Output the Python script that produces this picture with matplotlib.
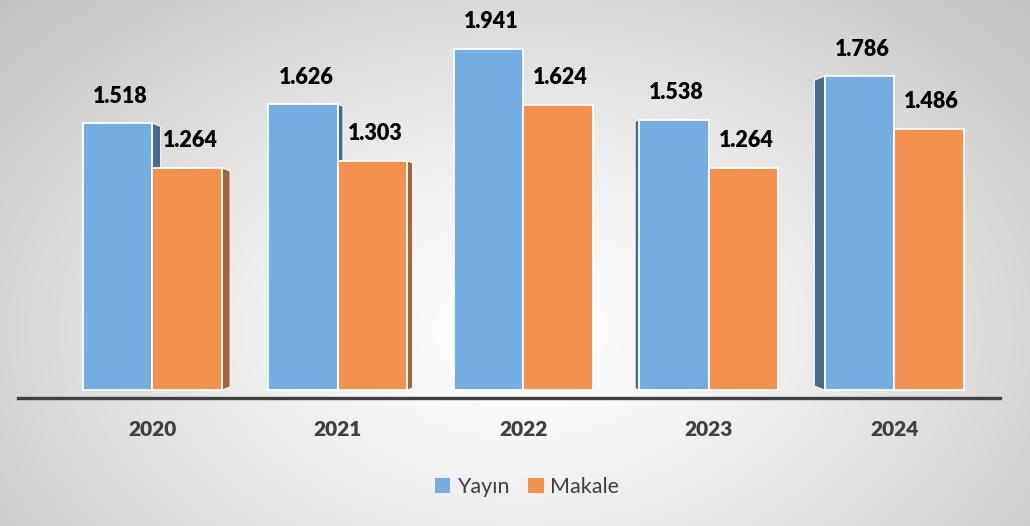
import numpy as np
import matplotlib.pyplot as plt
from matplotlib.patches import Patch, Polygon

plt.rcParams['font.family'] = ['Lato', 'DejaVu Sans']

years = ['2020', '2021', '2022', '2023', '2024']
yayin = [1518, 1626, 1941, 1538, 1786]
makale = [1264, 1303, 1624, 1264, 1486]
series_names = ['Yayın', 'Makale']

BLUE = '#74ADE2'
ORANGE = '#F4914F'
BLUE_SIDE = '#46698C'
ORANGE_SIDE = '#A5653A'
TXT = '#404040'

W, H = 1030, 526
fig = plt.figure(figsize=(W / 100, H / 100), dpi=100)

# radial grey background
yy, xx = np.mgrid[0:H, 0:W]
r = np.hypot((xx - 520) / 640, (yy - 330) / 430)
shade = 1 - 0.21 * np.clip(r, 0, 1.3) ** 1.3
bg = fig.add_axes([0, 0, 1, 1])
bg.imshow(np.dstack([shade] * 3), extent=[0, 1, 0, 1], aspect='auto')
bg.axis('off')

ax = fig.add_axes([18 / W, 128 / H, 982 / W, 378 / H])
ax.patch.set_alpha(0)

px_x = 185.4          # pixels per category
px_y = 0.1757         # pixels per unit
ax.set_xlim((18 - 152.5) / px_x, (1000 - 152.5) / px_x)
ax.set_ylim(-8 / px_y, (390 - 20) / px_y)

bw = 0.375
x = np.arange(len(years))

# perspective side faces (pixels, + right / - left)
depth = [8, 5, 0, -4, -10]


def side_face(x_edge, h, d_px, color):
    d = d_px / px_x
    e = 0.4 * abs(d_px) / px_y
    pts = [(x_edge, 0), (x_edge + d, e), (x_edge + d, h - e), (x_edge, h)]
    ax.add_patch(Polygon(pts, closed=True, facecolor=color,
                         edgecolor='white', linewidth=0.6, zorder=1))


for i in range(len(years)):
    d = depth[i]
    if d > 0:
        side_face(x[i], yayin[i], d, BLUE_SIDE)
        side_face(x[i] + bw, makale[i], d, ORANGE_SIDE)
    elif d < 0:
        side_face(x[i] - bw, yayin[i], d, BLUE_SIDE)

ax.bar(x - bw / 2, yayin, bw, color=BLUE, edgecolor='white', linewidth=1.3, zorder=2)
ax.bar(x + bw / 2, makale, bw, color=ORANGE, edgecolor='white', linewidth=1.3, zorder=2)


def fmt(v):
    return f'{v:,}'.replace(',', '.')


for xs, vals in [(x - bw / 2, yayin), (x + bw / 2, makale)]:
    for xi, v in zip(xs, vals):
        ax.annotate(fmt(v), (xi, v), xytext=(2, 12), textcoords='offset points',
                    ha='center', va='bottom', fontsize=15.5, fontweight='heavy',
                    color='black', zorder=5)

for s in ['top', 'right', 'left']:
    ax.spines[s].set_visible(False)
ax.spines['bottom'].set_color(TXT)
ax.spines['bottom'].set_linewidth(2.4)
ax.set_yticks([])
ax.set_xticks(x)
ax.set_xticklabels(years, fontsize=15, fontweight='heavy', color=TXT)
ax.tick_params(axis='x', length=0, pad=16)

handles = [Patch(facecolor=BLUE, edgecolor='none'),
           Patch(facecolor=ORANGE, edgecolor='none')]
leg = fig.legend(handles, series_names, loc='center', bbox_to_anchor=(527 / W, 1 - 487 / H),
                 ncol=2, frameon=False, fontsize=15.5, handlelength=0.7, handleheight=0.7,
                 handletextpad=0.3, columnspacing=0.9)
for t in leg.get_texts():
    t.set_color(TXT)

plt.savefig('out.png', dpi=100)
